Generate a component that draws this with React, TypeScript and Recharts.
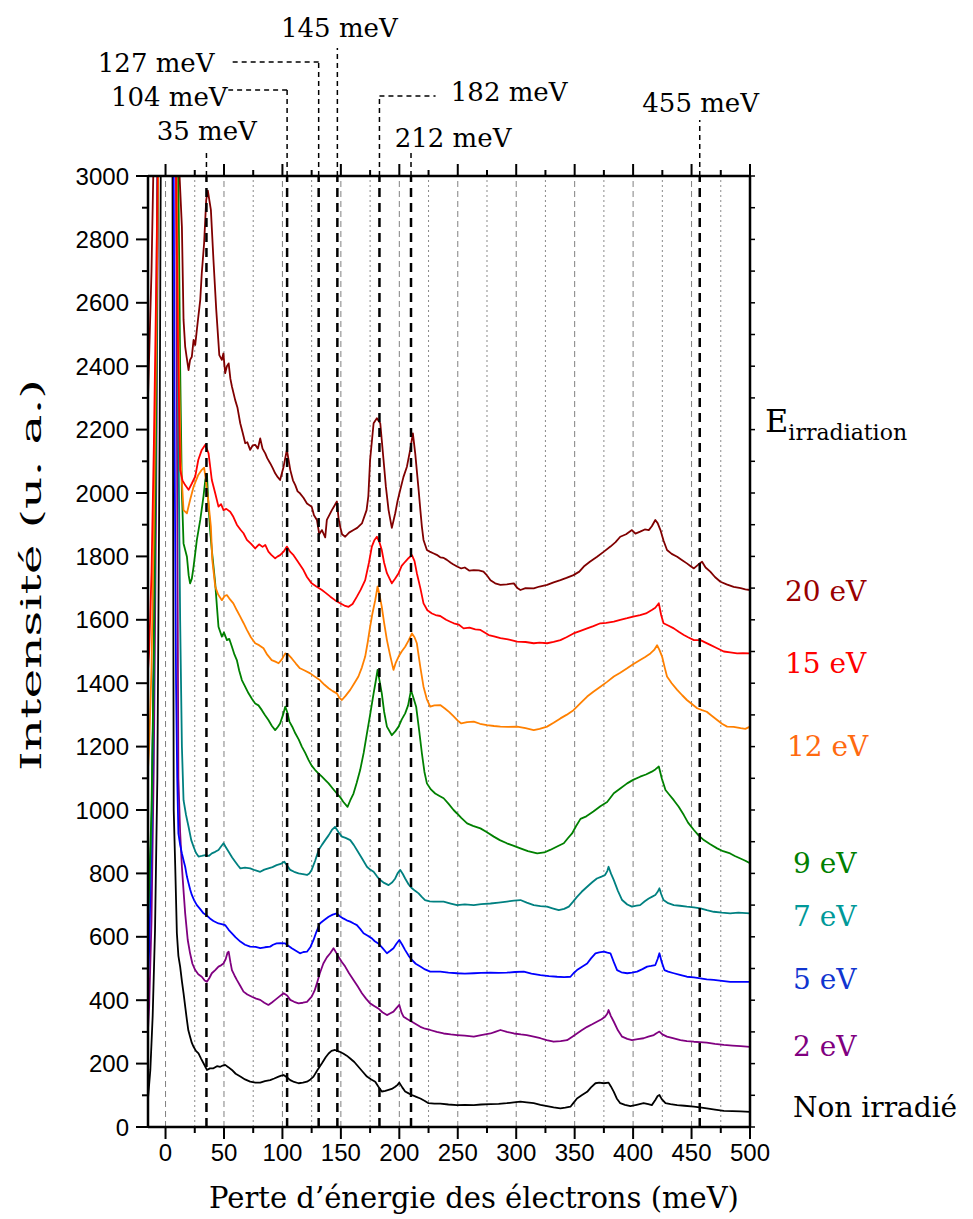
import { ComposedChart, Line, XAxis, YAxis, ReferenceLine, ReferenceDot } from "recharts";

type Pt = [number, number];

// x: perte d'énergie (meV), y: intensité (u. a.)
const nonIrradie: Pt[] = [
  [-15, 90], [-13, 180], [-11, 350], [-9, 620], [-7, 1100], [-5, 2200], [-3, 4000], [0, 7000], [3, 6000], [5.5, 4000], [6.2, 2500], [7, 1000], [8.3, 821], [9.7, 611], [11, 540], [12.5, 506], [14, 460], [15.4, 422], [17, 375], [18.3, 337], [19.5, 305], [21, 285], [22.5, 265], [24, 253], [26, 240], [28.2, 232], [30.5, 215], [32.5, 201], [35.4, 180], [38, 185], [41, 185], [44, 192], [46.8, 190], [49, 194], [51, 196], [54, 188], [56.8, 180], [60, 168], [64, 159], [68, 150], [72.4, 143], [77, 140], [81, 140], [85, 145], [89.5, 148], [93, 153], [96.7, 159], [99, 162], [101, 164], [103.5, 158], [106.7, 148], [110, 142], [113.8, 138], [117.5, 140], [121, 143], [124, 150], [126.6, 159], [130, 180], [133.8, 201], [137, 220], [139.5, 232], [142, 240], [145, 243], [148.5, 238], [152, 232], [155, 225], [158, 216], [161.5, 205], [165, 190], [168.5, 175], [172.3, 159], [176, 150], [179.4, 143], [182, 128], [185, 112], [188, 114], [190.8, 117], [193.5, 120], [196.5, 127], [198.5, 133], [200, 140], [202.5, 125], [205, 112], [208, 106], [210.8, 101], [214, 96], [218, 90], [221.5, 83], [225, 75], [230, 74], [235, 74], [242, 71], [249.4, 69], [256, 70], [263.7, 69], [270, 71], [278, 72], [285, 73], [292, 75], [298, 78], [303.6, 80], [309, 78], [315, 75], [320.7, 70], [326.4, 66], [332, 62], [337.8, 59], [342, 61], [346.4, 64], [349, 76], [352, 90], [356, 100], [360.7, 111], [364, 125], [367.8, 138], [371, 140], [375, 138], [379, 140], [381, 128], [383.5, 111], [386, 90], [389, 75], [393, 70], [397.7, 66], [403, 70], [409, 75], [413, 72], [416, 69], [419, 85], [421, 98], [422.5, 101], [424.5, 88], [427.7, 75], [432, 72], [437.7, 69], [444, 67], [452, 64], [457, 62], [463, 59], [470, 55], [477.6, 51], [485, 50], [492, 49], [500, 48],
];

const irr2: Pt[] = [
  [-15, 306], [-14, 380], [-12, 650], [-10, 1150], [-8, 2000], [-6, 3200], [-3, 6000], [0, 9000], [5, 6000], [9, 3000], [10, 2000], [11, 1100], [12.5, 930], [14, 821], [15.5, 740], [16.8, 674], [19, 590], [21, 548], [23, 515], [25.4, 495], [28, 482], [31, 474], [33.5, 462], [35.4, 458], [37.5, 470], [39.6, 485], [42.5, 495], [45.3, 506], [47.5, 510], [49.6, 516], [51.5, 530], [53, 550], [54, 553], [55.5, 520], [56.8, 495], [59, 478], [61, 464], [64, 445], [66.7, 427], [70, 418], [73.9, 411], [77.5, 405], [81, 401], [84.5, 392], [88, 385], [91, 393], [93.8, 401], [97.5, 412], [101, 422], [104, 415], [106.7, 401], [110, 395], [113.8, 390], [117.5, 392], [121, 395], [125, 411], [127.5, 430], [129.5, 453], [132, 485], [135, 516], [138, 535], [140.9, 548], [143.7, 564], [146, 550], [148, 537], [151, 520], [153.7, 506], [157, 485], [160.8, 464], [164.5, 443], [168, 422], [171.5, 405], [175, 390], [178.5, 382], [182, 374], [185.5, 362], [189.4, 353], [192, 358], [195, 364], [197.5, 375], [200, 385], [202, 360], [203.6, 348], [207, 340], [210.8, 332], [214, 325], [218, 316], [222, 310], [226.4, 306], [232, 300], [237.9, 295], [244, 292], [249.4, 290], [256, 288], [263.7, 285], [270, 290], [278, 295], [282, 300], [286.5, 306], [292, 300], [298, 295], [304, 292], [309, 290], [315, 285], [320.7, 280], [326, 274], [332, 269], [338, 271], [343.5, 274], [348, 285], [352, 295], [356, 305], [360.7, 316], [365, 324], [369, 332], [373, 340], [376, 348], [378, 358], [379, 369], [381, 350], [383.5, 332], [387, 305], [390.6, 285], [395, 278], [399, 274], [404, 277], [409, 280], [413, 285], [417.7, 290], [420, 296], [422.5, 301], [425, 292], [429, 285], [434, 280], [440.5, 274], [446, 271], [452, 269], [457, 268], [463, 266], [470, 262], [477.6, 259], [485, 257], [492, 255], [500, 253],
];

const irr5: Pt[] = [
  [-15, 464], [-14, 560], [-12, 900], [-10, 1500], [-8, 2500], [-6, 3500], [-3, 6000], [0, 9000], [4, 6000], [7, 3000], [8, 2000], [9, 1400], [10, 1100], [11, 926], [12.5, 890], [14, 863], [15.5, 840], [16.8, 821], [18.3, 790], [19.7, 769], [21, 750], [22.5, 732], [24.5, 715], [26.8, 700], [29.5, 688], [32.5, 674], [35, 668], [38, 658], [41, 650], [45.3, 642], [48, 640], [51, 637], [54, 622], [56.8, 611], [60, 598], [64, 585], [68, 575], [72.4, 569], [77, 568], [81, 564], [85, 567], [89.5, 569], [92, 575], [95, 579], [98.5, 580], [102.4, 579], [105, 572], [108, 564], [111.5, 556], [115, 548], [118, 552], [121, 553], [124, 568], [126.6, 590], [129, 615], [132, 642], [135.5, 652], [139.5, 663], [143, 670], [146.6, 674], [149, 665], [152, 658], [155, 652], [158, 648], [161, 642], [163.7, 637], [166.5, 625], [169.4, 611], [173, 603], [176.5, 595], [179, 586], [182, 579], [185.5, 565], [189.4, 548], [192, 555], [195, 564], [197.5, 578], [200, 590], [202.5, 575], [205, 558], [208, 540], [210.8, 527], [214, 515], [218, 506], [222, 497], [226.4, 490], [231, 490], [235, 490], [242, 487], [249.4, 485], [256, 484], [263.7, 485], [270, 486], [278, 487], [285, 486], [292, 487], [299, 489], [306.5, 490], [313, 484], [320.7, 479], [328, 476], [335, 474], [341, 473], [346.4, 474], [349, 485], [352, 495], [356, 505], [360.7, 516], [364, 532], [367.8, 548], [371, 551], [375, 553], [378, 550], [380.6, 548], [383.5, 520], [386.3, 495], [390, 488], [395, 485], [399, 487], [403.4, 490], [408, 498], [412, 506], [415.5, 508], [419, 511], [421, 530], [422.5, 548], [424.5, 520], [426.8, 495], [430, 490], [434.8, 485], [440, 480], [446, 474], [452, 472], [457.6, 469], [463, 466], [469, 464], [476, 461], [483, 458], [490, 458], [500, 458],
];

const irr7: Pt[] = [
  [-15, 640], [-14, 720], [-12, 950], [-10, 1450], [-8, 2200], [-6.5, 3100], [-3, 5500], [0, 9000], [5, 5500], [10, 3000], [11, 2200], [12.5, 1600], [14, 1200], [15.4, 1031], [17.5, 985], [19.7, 947], [22, 905], [24, 884], [26, 865], [28.2, 853], [31, 855], [34, 858], [37, 855], [39.6, 863], [42.5, 868], [45.3, 874], [47.5, 885], [49.6, 895], [52, 880], [54, 868], [57, 850], [59.6, 837], [62, 825], [64, 816], [68, 818], [72.4, 816], [76.5, 810], [81, 805], [84.5, 812], [88, 816], [91.5, 820], [95, 826], [98.5, 830], [101.5, 837], [104, 825], [106.7, 811], [110, 805], [113.8, 800], [117.5, 798], [121, 795], [123, 800], [125, 811], [128, 840], [131, 874], [133.8, 890], [136.6, 905], [139.5, 920], [142.3, 937], [145, 947], [148, 930], [150.9, 916], [154, 912], [158, 905], [161, 890], [163.7, 874], [168, 848], [172.3, 821], [175, 812], [178, 805], [181, 790], [183.7, 779], [187, 770], [190.8, 763], [194, 772], [196.5, 784], [198.5, 800], [200.8, 811], [203, 798], [205, 784], [208, 765], [210.8, 753], [213.5, 745], [216.5, 737], [219, 727], [222, 716], [226, 712], [229.3, 711], [234, 711], [237.9, 711], [244, 705], [249.4, 700], [256, 702], [263.7, 700], [270, 703], [278, 705], [285, 708], [292, 711], [298, 714], [303.6, 716], [309, 708], [315, 700], [320.7, 697], [326.4, 695], [331, 690], [336.4, 684], [341, 688], [345, 695], [348.5, 710], [352, 726], [356, 742], [360.7, 758], [365, 772], [369, 784], [373, 790], [376, 795], [378, 808], [379, 821], [381, 800], [383.5, 779], [387, 745], [390.6, 716], [395, 702], [399, 695], [403, 698], [406, 700], [410, 712], [413.4, 721], [416, 726], [419, 732], [421, 742], [422.5, 753], [424, 735], [426, 716], [430, 706], [434.8, 700], [440, 698], [446, 695], [452, 693], [457.6, 690], [463, 684], [469, 679], [476, 676], [483, 674], [490, 676], [500, 674],
];

const irr9: Pt[] = [
  [-15, 690], [-14, 760], [-12, 1000], [-10, 1500], [-8, 2300], [-6.5, 3100], [-3, 5500], [0, 9000], [5, 5500], [11, 3000], [12.5, 2400], [14, 2000], [15.4, 1841], [18.3, 1799], [19.8, 1740], [21, 1715], [22.5, 1730], [24, 1768], [26.8, 1852], [29.7, 1915], [32.5, 1990], [34, 2040], [35.4, 2060], [36.8, 1957], [38.2, 1880], [39.6, 1820], [42.5, 1715], [44, 1640], [45.3, 1578], [48.2, 1547], [50, 1560], [52.5, 1536], [54.5, 1540], [56.8, 1515], [59, 1490], [61, 1473], [63, 1440], [65.3, 1410], [68, 1390], [71, 1368], [74, 1350], [76.7, 1336], [79.5, 1330], [82.4, 1315], [85, 1300], [88, 1284], [91, 1265], [93.8, 1252], [96, 1262], [98, 1273], [100.5, 1300], [102.4, 1326], [104, 1310], [106, 1279], [108.5, 1262], [111, 1242], [114, 1222], [116.6, 1200], [119.5, 1180], [122.3, 1158], [125, 1140], [128, 1126], [131, 1115], [133.8, 1105], [136.5, 1095], [139.5, 1084], [143, 1068], [146.6, 1052], [149.5, 1040], [152, 1026], [155.7, 1010], [158, 1030], [160.8, 1052], [163.5, 1085], [166.5, 1126], [169.5, 1180], [172.3, 1242], [175, 1300], [178, 1368], [180, 1410], [181.4, 1442], [182.5, 1420], [185, 1368], [187, 1310], [189.4, 1263], [193.6, 1236], [196.5, 1248], [199.4, 1263], [202, 1285], [205, 1305], [207.5, 1330], [210, 1378], [212, 1355], [214.4, 1326], [217, 1250], [219.3, 1179], [221.5, 1120], [223.6, 1084], [227, 1065], [230.7, 1052], [234, 1045], [237.9, 1037], [242, 1020], [246.4, 1000], [249.4, 989], [253, 975], [258, 958], [263, 950], [269.4, 942], [275, 930], [280.8, 916], [286, 905], [292, 895], [298, 887], [303.6, 879], [310, 870], [318, 863], [324, 866], [329, 874], [335, 885], [340.7, 895], [344, 910], [347.8, 926], [351, 948], [355, 972], [360, 980], [366, 995], [372, 1012], [377.8, 1025], [383.5, 1053], [389, 1068], [394.9, 1084], [400, 1095], [406, 1105], [411, 1112], [416, 1121], [419, 1128], [422, 1137], [424.5, 1100], [427.7, 1063], [431, 1048], [434.8, 1031], [439, 1010], [443.4, 984], [447, 960], [452, 937], [456, 920], [460.5, 905], [466, 892], [471.9, 879], [477, 870], [483, 863], [487, 855], [491.8, 847], [496, 840], [500, 832],
];

const irr12: Pt[] = [
  [-15, 1130], [-14, 1200], [-12, 1450], [-10, 1900], [-8, 2500], [-6, 3100], [-3, 5500], [0, 9000], [5, 5000], [9.5, 3000], [11, 2500], [13, 2100], [15.4, 1946], [18.3, 1936], [21, 1978], [24, 2020], [28, 2057], [31, 2073], [33, 2080], [34.5, 2041], [36.8, 1967], [38.8, 1894], [40, 1789], [42.5, 1705], [45, 1680], [48.2, 1662], [50.5, 1675], [52.5, 1678], [55, 1665], [58, 1652], [61, 1630], [63.9, 1610], [66.7, 1590], [69.6, 1568], [73, 1545], [76.7, 1526], [80, 1520], [83.8, 1510], [87, 1490], [90.8, 1473], [94, 1468], [96.7, 1463], [99.5, 1475], [102.4, 1494], [105, 1490], [108, 1478], [111.5, 1462], [115, 1447], [119, 1440], [123.8, 1431], [128, 1420], [132, 1410], [136, 1395], [139.5, 1384], [143, 1375], [146.6, 1368], [148.5, 1355], [150.9, 1347], [154, 1360], [158, 1379], [161.5, 1400], [165, 1421], [168, 1450], [170.8, 1484], [173, 1530], [175, 1578], [177, 1620], [179.4, 1662], [181.4, 1705], [183, 1680], [185, 1641], [187, 1590], [189.4, 1536], [192, 1490], [195, 1442], [197, 1465], [199.4, 1484], [202, 1500], [205, 1515], [208, 1535], [210.8, 1557], [213, 1545], [215, 1526], [218, 1450], [220.7, 1389], [223.5, 1350], [226.4, 1326], [230, 1330], [235, 1331], [239, 1320], [243, 1308], [246.5, 1295], [250, 1282], [253, 1273], [258, 1277], [263.7, 1279], [269, 1272], [275, 1268], [281, 1265], [286.5, 1263], [293, 1262], [300.8, 1263], [308, 1258], [315, 1252], [320, 1256], [326.4, 1263], [332, 1275], [337.8, 1289], [343, 1300], [349, 1315], [355, 1337], [360.7, 1358], [366, 1373], [372, 1389], [378, 1405], [383.5, 1421], [389, 1433], [394.9, 1447], [400, 1460], [406, 1473], [410, 1482], [414.8, 1494], [418, 1505], [420.5, 1520], [422.5, 1505], [424.8, 1484], [427, 1450], [429, 1421], [433, 1400], [437.7, 1379], [442, 1362], [446, 1347], [450, 1335], [454.8, 1321], [459, 1315], [463, 1310], [467, 1298], [471.9, 1284], [476, 1272], [480.4, 1263], [486, 1262], [492, 1258], [496, 1256], [500, 1263],
];

const irr15: Pt[] = [
  [-15, 1440], [-14, 1500], [-12, 1750], [-10, 2150], [-8, 2650], [-6.5, 3100], [-3, 5500], [0, 9000], [5, 5000], [9, 3000], [10.5, 2500], [12.5, 2073], [14.5, 2040], [16.8, 2025], [19.7, 2010], [22.5, 2030], [25.4, 2052], [28, 2104], [31, 2136], [34, 2152], [36.8, 2125], [39.6, 2041], [42.5, 1999], [45.3, 1957], [47.5, 1965], [49.6, 1946], [52, 1950], [55.3, 1941], [58, 1925], [61, 1900], [64, 1885], [66.7, 1873], [69.6, 1852], [73, 1840], [76.7, 1825], [80, 1838], [83, 1830], [85.3, 1836], [88, 1815], [90.5, 1805], [93.8, 1794], [96, 1800], [98, 1804], [101, 1815], [103.8, 1831], [106.5, 1815], [109.5, 1804], [113, 1785], [118, 1757], [121, 1735], [125, 1715], [129, 1705], [133.8, 1694], [137, 1685], [141, 1673], [145, 1662], [149.4, 1652], [153, 1645], [156.6, 1641], [160, 1650], [163.7, 1673], [167, 1695], [170.8, 1725], [174, 1780], [176.5, 1831], [178.5, 1850], [180.8, 1862], [183, 1845], [185, 1820], [187, 1780], [189.4, 1747], [193.6, 1715], [196.5, 1730], [199.4, 1747], [202, 1770], [205, 1783], [208, 1795], [210.8, 1804], [213, 1785], [215, 1747], [218, 1700], [220.7, 1652], [224, 1630], [227.9, 1620], [231, 1615], [235, 1612], [240, 1600], [243.6, 1594], [246.6, 1589], [250.7, 1585], [255, 1573], [260, 1575], [265, 1570], [269.4, 1568], [273, 1560], [276.5, 1552], [281, 1548], [286.5, 1542], [293, 1538], [300.8, 1531], [308, 1530], [315, 1526], [320, 1528], [326.4, 1526], [332, 1530], [337.8, 1536], [343, 1545], [349, 1557], [355, 1565], [360.7, 1573], [366, 1580], [372, 1589], [377, 1590], [383.5, 1594], [389, 1600], [394.9, 1605], [400, 1610], [406, 1615], [411, 1620], [416, 1631], [419, 1638], [422, 1652], [424, 1615], [426, 1589], [430, 1582], [434.8, 1573], [439, 1562], [443.4, 1552], [447, 1545], [452, 1536], [457.6, 1536], [462, 1528], [466, 1521], [471, 1512], [477.6, 1500], [483, 1497], [489, 1494], [494, 1495], [500, 1494],
];

const irr20: Pt[] = [
  [-15, 2300], [-12, 2700], [-9, 3300], [-5, 6000], [0, 9000], [8, 6000], [12, 3000], [14, 2840], [15.4, 2546], [16.8, 2462], [18, 2430], [19.7, 2388], [21, 2420], [22.5, 2430], [24, 2483], [25.4, 2467], [27.4, 2535], [29.7, 2609], [31, 2693], [33, 2788], [34.8, 2924], [36.2, 2954], [38.8, 2893], [41, 2735], [43.4, 2577], [46, 2435], [48.2, 2420], [49.5, 2440], [51, 2378], [52.5, 2400], [54, 2409], [55.5, 2360], [56.8, 2336], [59.6, 2293], [61.5, 2270], [63.9, 2220], [66, 2190], [68.2, 2157], [70, 2160], [72.4, 2136], [74.5, 2150], [76.7, 2152], [79, 2140], [81, 2172], [83, 2140], [85.3, 2125], [87, 2110], [89.5, 2094], [91.5, 2080], [93.8, 2062], [96, 2050], [98, 2041], [101, 2083], [103.8, 2136], [106.7, 2073], [109, 2040], [111, 2025], [113, 2005], [115, 1999], [118, 1985], [121, 1967], [125, 1957], [127, 1930], [129.5, 1915], [131.5, 1870], [133.8, 1883], [136.6, 1860], [138, 1915], [142.3, 1946], [144.5, 1960], [146.6, 1973], [148, 1920], [149.4, 1894], [151, 1870], [153.7, 1862], [157, 1875], [160.8, 1883], [164, 1890], [168, 1904], [172, 1946], [173.5, 1990], [175, 2104], [178, 2220], [180.8, 2236], [183.7, 2220], [186.5, 2104], [188.5, 2020], [190.8, 1946], [193.6, 1890], [196.5, 1936], [198.5, 1975], [200.8, 2010], [203.5, 2050], [206.5, 2083], [209.3, 2136], [211.6, 2188], [213.6, 2125], [216.5, 2010], [218, 1946], [219.3, 1894], [220.7, 1852], [223.6, 1820], [226, 1815], [229, 1810], [232, 1805], [235, 1797], [238, 1795], [240.7, 1789], [244, 1780], [246, 1775], [249.4, 1768], [253, 1762], [256, 1765], [260, 1755], [263.7, 1757], [268, 1756], [272, 1752], [275, 1740], [278, 1725], [282, 1715], [286.5, 1710], [292, 1712], [298, 1715], [301, 1700], [303.6, 1694], [308, 1700], [315, 1699], [320, 1705], [326.4, 1710], [332, 1718], [337.8, 1725], [343, 1732], [349, 1741], [354, 1752], [357.8, 1768], [363, 1783], [369.2, 1799], [375, 1815], [380.6, 1831], [385, 1845], [389, 1862], [394, 1870], [399, 1883], [402, 1872], [406, 1878], [410, 1885], [413.4, 1883], [416, 1895], [419, 1915], [421, 1905], [423.4, 1883], [426, 1850], [429, 1820], [433, 1808], [437.7, 1799], [442, 1788], [446, 1778], [449, 1770], [452, 1762], [456, 1775], [459, 1783], [462, 1765], [466, 1752], [470, 1735], [474.7, 1720], [480, 1712], [486, 1704], [492, 1700], [496, 1696], [500, 1694],
];

const series = [
  { name: "Non irradié", data: nonIrradie, color: "#000000", text: "#000000", tx: 793, ty: 1117 },
  { name: "2 eV", data: irr2, color: "#800080", text: "#800080", tx: 793, ty: 1056 },
  { name: "5 eV", data: irr5, color: "#0000ff", text: "#1035d0", tx: 793, ty: 989 },
  { name: "7 eV", data: irr7, color: "#008080", text: "#009999", tx: 793, ty: 926 },
  { name: "9 eV", data: irr9, color: "#008000", text: "#008000", tx: 793, ty: 873 },
  { name: "12 eV", data: irr12, color: "#ff8000", text: "#ff6a10", tx: 787, ty: 756 },
  { name: "15 eV", data: irr15, color: "#ff0000", text: "#ff0000", tx: 785, ty: 673 },
  { name: "20 eV", data: irr20, color: "#800000", text: "#990000", tx: 785, ty: 601 },
];

const xTicks = Array.from({ length: 21 }, (_, i) => i * 25);
const yTicks = Array.from({ length: 31 }, (_, i) => i * 100);
const majorGrid = [0, 50, 100, 150, 200, 250, 300, 350, 400, 450];
const minorGrid = [25, 75, 125, 175, 225, 275, 325, 375, 425, 475];

// vibration modes: dashed line position, label, label centre, connector top, elbow end
const modes = [
  { x: 35, label: "35 meV", lx: 35.3, ly: 3142, top: 3073, elbow: null },
  { x: 104, label: "104 meV", lx: 3.2, ly: 3249, top: 3271, elbow: 53.7 },
  { x: 131, label: "127 meV", lx: -8, ly: 3356, top: 3360, elbow: 57.1 },
  { x: 147, label: "145 meV", lx: 148.7, ly: 3467, top: 3404, elbow: null },
  { x: 183, label: "182 meV", lx: 294, ly: 3265, top: 3252, elbow: 231 },
  { x: 210, label: "212 meV", lx: 246, ly: 3120, top: 3082, elbow: null },
  { x: 457, label: "455 meV", lx: 457.8, ly: 3230, top: 3177, elbow: null },
];

const SERIF = "'DejaVu Serif', 'Liberation Serif', serif";
const SANS = "'Liberation Sans', Arial, sans-serif";
const NARROW = "'Liberation Sans Narrow', 'Liberation Sans', Arial, sans-serif";

const BottomTick = (p: any) => {
  const v = p.payload.value;
  const major = v % 50 === 0;
  return (
    <g>
      <line x1={p.x} x2={p.x} y1={p.y} y2={p.y + (major ? 12 : 6)} stroke="#000" strokeWidth={2} />
      {major && (
        <text x={p.x} y={p.y + 34} textAnchor="middle" fontFamily={NARROW} fontSize={24} fill="#000">
          {v}
        </text>
      )}
    </g>
  );
};

const TopTick = (p: any) => {
  const major = p.payload.value % 50 === 0;
  return <line x1={p.x} x2={p.x} y1={p.y} y2={p.y - (major ? 12 : 6)} stroke="#000" strokeWidth={2} />;
};

const LeftTick = (p: any) => {
  const v = p.payload.value;
  const major = v % 200 === 0;
  return (
    <g>
      <line x1={p.x} x2={p.x - (major ? 12 : 6)} y1={p.y} y2={p.y} stroke="#000" strokeWidth={2} />
      {major && (
        <text x={p.x - 19} y={p.y + 8.5} textAnchor="end" fontFamily={SANS} fontSize={24} fill="#000">
          {v}
        </text>
      )}
    </g>
  );
};

const RightTick = (p: any) => (
  <line x1={p.x} x2={p.x + 5} y1={p.y} y2={p.y} stroke="#000" strokeWidth={1.5} />
);

export default function App() {
  const axisLine = { stroke: "#000", strokeWidth: 2.5 };
  return (
    <div style={{ position: "absolute", left: 0, top: 0, width: 973, height: 1219, background: "#fff" }}>
      <ComposedChart width={973} height={1219} margin={{ top: 156, right: 213, bottom: 52, left: 88 }}>
        <XAxis
          xAxisId="b"
          type="number"
          dataKey="x"
          domain={[-15, 500]}
          allowDataOverflow
          ticks={xTicks}
          interval={0}
          tickSize={0}
          tickMargin={0}
          tickLine={false}
          axisLine={axisLine}
          height={40}
          tick={BottomTick}
        />
        <XAxis
          xAxisId="t"
          orientation="top"
          type="number"
          dataKey="x"
          domain={[-15, 500]}
          allowDataOverflow
          ticks={xTicks}
          interval={0}
          tickSize={0}
          tickMargin={0}
          tickLine={false}
          axisLine={axisLine}
          height={20}
          tick={TopTick}
        />
        <YAxis
          yAxisId="l"
          type="number"
          domain={[0, 3000]}
          allowDataOverflow
          ticks={yTicks}
          interval={0}
          tickSize={0}
          tickMargin={0}
          tickLine={false}
          axisLine={axisLine}
          width={60}
          tick={LeftTick}
        />
        <YAxis
          yAxisId="r"
          orientation="right"
          type="number"
          domain={[0, 3000]}
          allowDataOverflow
          ticks={yTicks}
          interval={0}
          tickSize={0}
          tickMargin={0}
          tickLine={false}
          axisLine={axisLine}
          width={10}
          tick={RightTick}
        />

        {majorGrid.map((v) => (
          <ReferenceLine key={"M" + v} xAxisId="b" yAxisId="l" x={v} stroke="#808080" strokeWidth={1} strokeDasharray="6 4" />
        ))}
        {minorGrid.map((v) => (
          <ReferenceLine key={"m" + v} xAxisId="b" yAxisId="l" x={v} stroke="#8a8a8a" strokeWidth={1} strokeDasharray="2 3" />
        ))}

        {series.map((s) => (
          <Line
            key={s.name}
            xAxisId="b"
            yAxisId="l"
            data={s.data.map(([x, y]) => ({ x, y }))}
            dataKey="y"
            name={s.name}
            type="linear"
            stroke={s.color}
            strokeWidth={1.8}
            strokeLinejoin="round"
            dot={false}
            activeDot={false}
            isAnimationActive={false}
          />
        ))}

        {modes.map((m) => (
          <ReferenceLine key={"d" + m.x} xAxisId="b" yAxisId="l" x={m.x} stroke="#000" strokeWidth={2.5} strokeDasharray="9 6" />
        ))}
        {modes.map((m) => (
          <ReferenceLine
            key={"v" + m.x}
            xAxisId="b"
            yAxisId="l"
            ifOverflow="visible"
            segment={[{ x: m.x, y: 3000 }, { x: m.x, y: m.top }]}
            stroke="#000"
            strokeWidth={1.5}
            strokeDasharray="5 4"
          />
        ))}
        {modes
          .filter((m) => m.elbow !== null)
          .map((m) => (
            <ReferenceLine
              key={"h" + m.x}
              xAxisId="b"
              yAxisId="l"
              ifOverflow="visible"
              segment={[{ x: m.x, y: m.top }, { x: m.elbow as number, y: m.top }]}
              stroke="#000"
              strokeWidth={1.5}
              strokeDasharray="5 4"
            />
          ))}
        {modes.map((m) => (
          <ReferenceDot
            key={"t" + m.x}
            xAxisId="b"
            yAxisId="l"
            x={m.lx}
            y={m.ly}
            r={0}
            ifOverflow="visible"
            shape={(p: any) => (
              <text x={p.cx} y={p.cy} textAnchor="middle" dominantBaseline="central" fontFamily={SERIF} fontSize={26} fill="#000">
                {m.label}
              </text>
            )}
          />
        ))}
      </ComposedChart>

      <svg width={973} height={1219} style={{ position: "absolute", left: 0, top: 0, pointerEvents: "none" }}>
        <text
          x={31}
          y={575}
          transform="rotate(-90 31 575)"
          textAnchor="middle"
          dominantBaseline="central"
          fontFamily={SERIF}
          fontSize={28}
          textLength={392}
          lengthAdjust="spacingAndGlyphs"
          fill="#000"
        >
          Intensité (u. a.)
        </text>
        <text x={474} y={1208} textAnchor="middle" fontFamily={SERIF} fontSize={29} fill="#000">
          Perte d’énergie des électrons (meV)
        </text>
        <text x={765} y={432} fontFamily={SERIF} fontSize={32} fill="#000">
          E<tspan fontSize={22} dy={8}>irradiation</tspan>
        </text>
        {series.map((s) => (
          <text key={s.name} x={s.tx} y={s.ty} fontFamily={SERIF} fontSize={28} fill={s.text}>
            {s.name}
          </text>
        ))}
      </svg>
    </div>
  );
}
